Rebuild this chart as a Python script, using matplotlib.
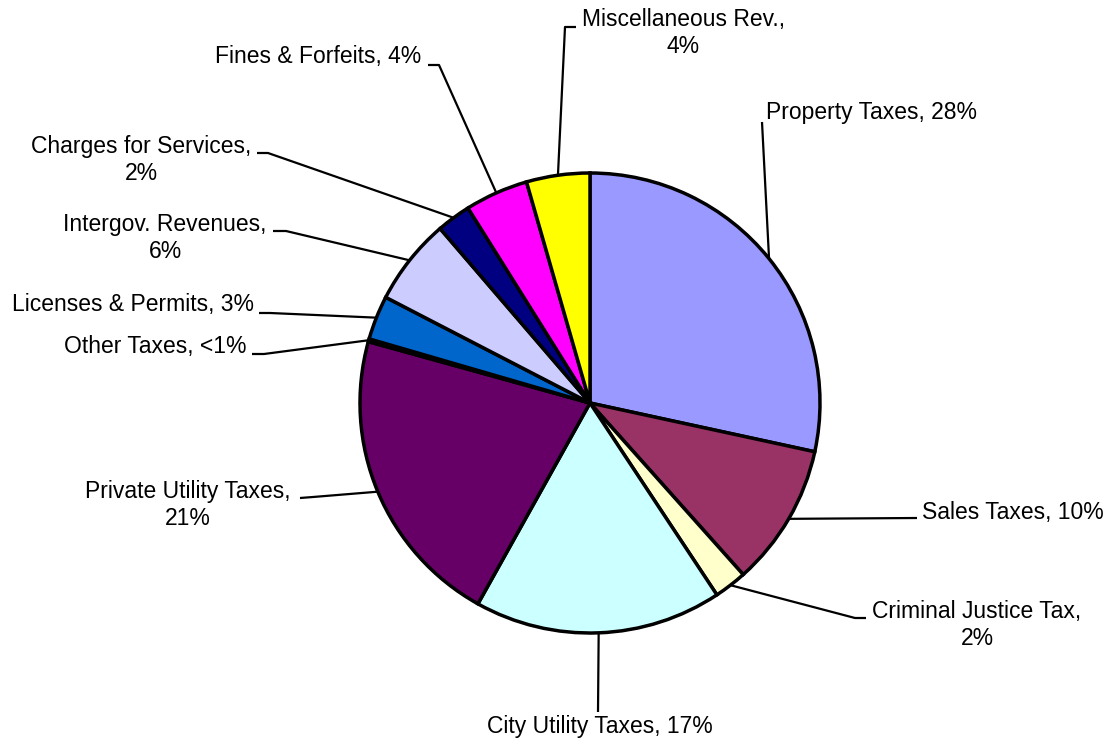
import matplotlib.pyplot as plt
import numpy as np

plt.rcParams['font.family'] = ['Liberation Sans', 'DejaVu Sans']

# revenue shares, clockwise from 12 o'clock
categories = ['Property Taxes', 'Sales Taxes', 'Criminal Justice Tax', 'City Utility Taxes',
              'Private Utility Taxes', 'Other Taxes', 'Licenses & Permits', 'Intergov. Revenues',
              'Charges for Services', 'Fines & Forfeits', 'Miscellaneous Rev.']
shares = [28.4, 10.0, 2.3, 17.4, 21.2, 0.2, 3.1, 6.1, 2.4, 4.45, 4.45]
pct_labels = ['28%', '10%', '2%', '17%', '21%', '<1%', '3%', '6%', '2%', '4%', '4%']
colors = ['#9999FF', '#993366', '#FFFFCC', '#CCFFFF', '#660066', '#FF8080',
          '#0066CC', '#CCCCFF', '#000080', '#FF00FF', '#FFFF00']

W, H = 1114, 742
cx, cy, R = 590, 403, 230

# label layout in pixels (y down): text pos, alignment, two lines?, leader points near text
layout = [
    (766, 113, 'left', False, [(762, 122)]),
    (922, 512, 'left', False, [(917, 518)]),
    (977, 625, 'center', True, [(866, 618), (855, 618)]),
    (600, 727, 'center', False, [(598, 712)]),
    (188, 505, 'center', True, [(300, 498), (313, 497)]),
    (246, 347, 'right', False, [(252, 354), (264, 354)]),
    (254, 305, 'right', False, [(259, 313), (270, 313)]),
    (165, 238, 'center', True, [(273, 231), (286, 231)]),
    (141, 160, 'center', True, [(257, 153), (268, 153)]),
    (421, 57, 'right', False, [(428, 65), (439, 65)]),
    (683, 33, 'center', True, [(576, 27), (565, 27)]),
]


def up(y):
    return H - y


fig = plt.figure(figsize=(W / 100, H / 100), dpi=100)
ax = fig.add_axes([0, 0, 1, 1])

wedges, _ = ax.pie(shares, colors=colors, startangle=90, counterclock=False,
                   center=(cx, up(cy)), radius=R,
                   wedgeprops=dict(edgecolor='black', linewidth=2.5))

for w, name, pct, (tx, ty, ha, two, pts) in zip(wedges, categories, pct_labels, layout):
    mid = np.deg2rad((w.theta1 + w.theta2) / 2)
    ex = cx + R * np.cos(mid)
    ey = up(cy) + R * np.sin(mid)
    xs = [p[0] for p in pts] + [ex]
    ys = [up(p[1]) for p in pts] + [ey]
    ax.plot(xs, ys, color='black', lw=1.6, solid_capstyle='butt', zorder=0)
    txt = name + ',\n' + pct if two else name + ', ' + pct
    ax.text(tx, up(ty), txt, ha=ha, va='center', multialignment='center',
            fontsize=16.5, linespacing=1.2)

ax.set_xlim(0, W)
ax.set_ylim(0, H)
ax.set_aspect('equal')
ax.axis('off')

fig.savefig('out.png', dpi=100, facecolor='white')
